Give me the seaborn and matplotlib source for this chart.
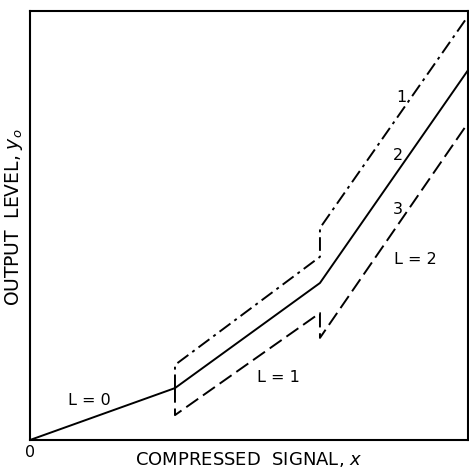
import matplotlib
matplotlib.use("Agg")
import matplotlib.pyplot as plt
import seaborn as sns
import pandas as pd

# Data (arbitrary units, 0..10)
curve2_x = [0.0, 3.31, 6.62, 10.0]
curve2_y = [0.0, 1.21, 3.66, 8.62]
curve1_x = [3.31, 3.31, 6.62, 6.62, 10.0]
curve1_y = [1.21, 1.75, 4.27, 4.94, 9.88]
curve3_x = [3.31, 3.31, 6.62, 6.62, 10.0]
curve3_y = [1.21, 0.58, 2.96, 2.38, 7.39]

sns.set_theme(style="white")
plt.rcParams['font.family'] = ['DejaVu Sans']

fig = plt.figure(figsize=(4.69, 4.69), dpi=100)
ax = fig.add_axes([30/469, 29/469, 438/469, 429/469])

def mk(xs, ys, name):
    return pd.DataFrame({"x": xs, "y": ys, "curve": name})

sns.lineplot(data=mk(curve2_x, curve2_y, "2"), x="x", y="y", sort=False, ax=ax,
             color="black", lw=1.4, estimator=None)
sns.lineplot(data=mk(curve1_x, curve1_y, "1"), x="x", y="y", sort=False, ax=ax,
             color="black", lw=1.4, estimator=None)
ax.lines[-1].set_dashes([7, 2.5, 1.5, 2.5])
sns.lineplot(data=mk(curve3_x, curve3_y, "3"), x="x", y="y", sort=False, ax=ax,
             color="black", lw=1.4, estimator=None)
ax.lines[-1].set_dashes([7.5, 3])

ax.set_xlim(0, 10)
ax.set_ylim(0, 10)
ax.set_xticks([])
ax.set_yticks([])
for s in ax.spines.values():
    s.set_visible(True)
    s.set_color("black")
    s.set_linewidth(1.5)

fs = 11.5
def px(xp, yp):
    return ((xp - 30) / 438 * 10, (440 - yp) / 429 * 10)

for txt, (xp, yp) in [("1", (401, 97)), ("2", (398, 155)), ("3", (398, 210)),
                      ("L = 2", (415, 260)), ("L = 1", (278, 377)), ("L = 0", (89, 400))]:
    ax.text(*px(xp, yp), txt, ha="center", va="center", fontsize=fs, color="black")

ax.text(*px(30, 452), "0", ha="center", va="center", fontsize=fs, color="black", clip_on=False)

ax.set_xlabel(r"COMPRESSED  SIGNAL, $x$", fontsize=13, color="black", labelpad=7)
ax.set_ylabel(r"OUTPUT  LEVEL, $y_o$", fontsize=13.5, color="black", labelpad=2)
ax.yaxis.set_label_coords(-0.012, 0.52)

fig.savefig("out.png", dpi=100, facecolor="white")
